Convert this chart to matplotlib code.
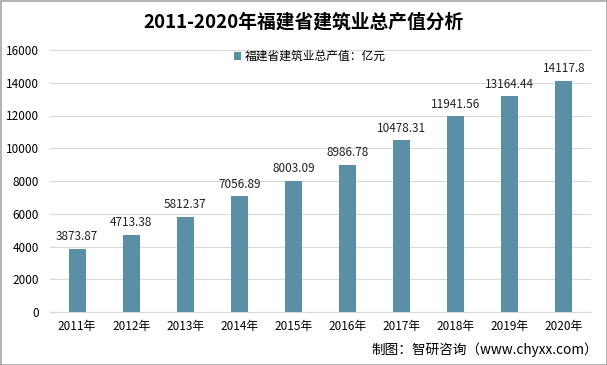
import matplotlib
matplotlib.use("Agg")
import matplotlib.pyplot as plt
from matplotlib.patches import Rectangle

plt.rcParams['font.family'] = ['Noto Sans CJK SC', 'DejaVu Sans']

years = ["2011年", "2012年", "2013年", "2014年", "2015年", "2016年", "2017年", "2018年", "2019年", "2020年"]
values = [3873.87, 4713.38, 5812.37, 7056.89, 8003.09, 8986.78, 10478.31, 11941.56, 13164.44, 14117.8]
labels = ["3873.87", "4713.38", "5812.37", "7056.89", "8003.09", "8986.78", "10478.31", "11941.56", "13164.44", "14117.8"]
yticks = [0, 2000, 4000, 6000, 8000, 10000, 12000, 14000, 16000]

W, H = 607, 365
fig = plt.figure(figsize=(W/100, H/100), dpi=100)
ax = fig.add_axes([50/W, 1-312/H, (591-50)/W, (312-50)/H])

color = "#5B8FA6"
x = list(range(len(years)))
ax.bar(x, values, width=0.315, color=color, label="福建省建筑业总产值：亿元", zorder=3)
for xi, v, lab in zip(x, values, labels):
    ax.annotate(lab, (xi, v), xytext=(0, 4), textcoords='offset points',
                ha='center', va='bottom', fontsize=8.5, color='#222222')

ax.set_xlim(-0.5, len(years) - 0.5)
ax.set_ylim(0, 16000)
ax.set_yticks(yticks)
ax.set_yticklabels([str(t) for t in yticks], fontsize=8.5)
ax.set_xticks(x)
ax.set_xticklabels(years, fontsize=8.5)
ax.grid(axis='y', color='#D9D9D9', linewidth=0.8, zorder=0)
for s in ['top', 'right', 'left']:
    ax.spines[s].set_visible(False)
ax.spines['bottom'].set_color('#D9D9D9')
ax.tick_params(axis='both', length=0, pad=6)
ax.tick_params(axis='y', pad=8)

ax.legend(loc='upper left', bbox_to_anchor=(0.32, 1.04), frameon=False, fontsize=8.5,
          handlelength=0.6, handleheight=0.6, handletextpad=0.3)

fig.text(0.5, 1-22/H, "2011-2020年福建省建筑业总产值分析", ha='center', va='center',
         fontsize=13.5, fontweight='bold')
fig.text(598/W, 1-350/H, "制图：智研咨询（www.chyxx.com）", ha='right', va='center', fontsize=9.8)

fig.add_artist(Rectangle((0.5/W, 0.5/H), 1-1/W, 1-1/H, transform=fig.transFigure,
                         fill=False, edgecolor='#A6A6A6', linewidth=1.2))

fig.savefig("out.png", dpi=100)
